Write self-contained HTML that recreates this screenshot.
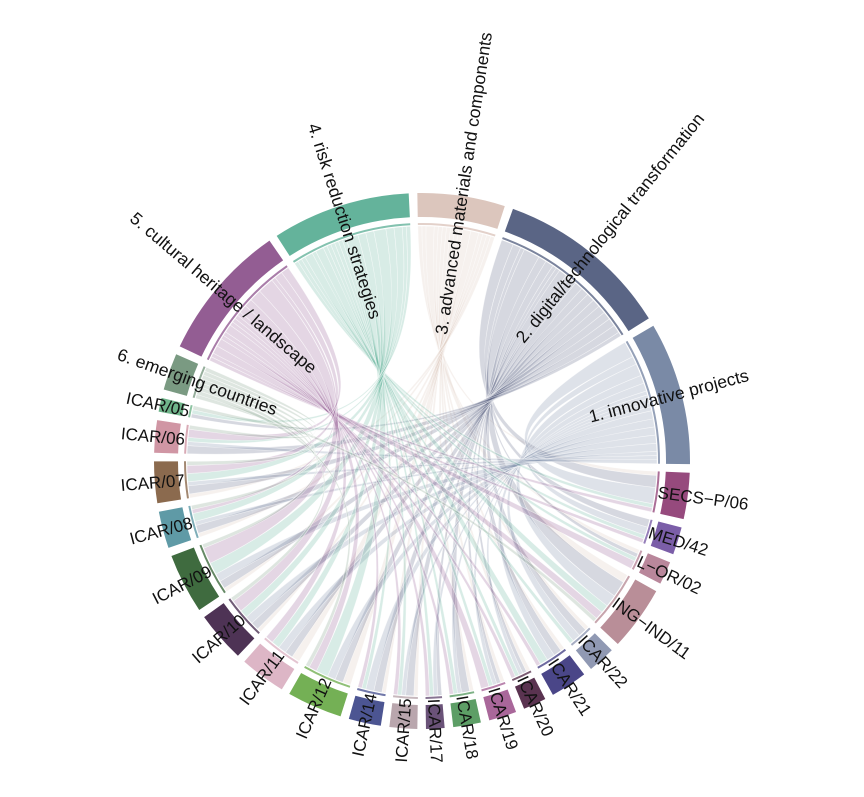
<!DOCTYPE html>
<html><head><meta charset="utf-8"><style>
html,body{margin:0;padding:0;background:#fff}
svg{display:block}
text{font-family:"Liberation Sans",Arial,sans-serif;fill:#111}
</style></head><body>
<svg id="chart" width="864" height="797" viewBox="0 0 864 797" xmlns="http://www.w3.org/2000/svg">
<g id="ribbons"></g>
<g id="arcs"></g>
<g id="labels"></g>
</svg>
<script>
// Themes (rows) and disciplines (columns)
const themes = ["3. advanced materials and components","2. digital/technological transformation","1. innovative projects","4. risk reduction strategies","5. cultural heritage / landscape","6. emerging countries"];
const themeColors = ["#dcc6bd","#5a6585","#7a8aa6","#64b39b","#935d93","#7a9a82"];
const disciplines = ["SECS\u2212P/06","MED/42","L\u2212OR/02","ING\u2212IND/11","ICAR/22","ICAR/21","ICAR/20","ICAR/19","ICAR/18","ICAR/17","ICAR/15","ICAR/14","ICAR/12","ICAR/11","ICAR/10","ICAR/09","ICAR/08","ICAR/07","ICAR/06","ICAR/05"];
const discColors = ["#964a7d","#7b5ea8","#b9879b","#b98e98","#9099b3","#4a4688","#5a3350","#a9679a","#5d9e66","#6a5278","#b9a6ad","#4c5592","#74b055","#ddb6c6","#4e3355","#3f6b3f","#5f9aa6","#8b6a4e","#d096a4","#6fb48a"];
// link values theme x discipline
const links3 = [1,0,1,2,1,1,1,1,1,0,1,1,2,2,1,1,1,1,0,0];
const links2 = [3,2,1,4,2,2,1,1,2,1,2,2,2,2,2,2,2,2,2,1];
const links1 = [4,2,0,3,2,2,1,1,1,1,1,2,2,2,2,2,1,1,1,0];
const links4 = [1,1,1,2,1,2,1,1,1,1,1,1,3,2,2,3,2,2,1,1];
const links5 = [1,1,2,2,0,1,1,2,1,1,1,1,2,2,3,4,1,2,2,0];
const links6 = [0,0,0,1,0,0,0,0,0,0,0,0,1,0,1,1,1,1,1,1];
const matrix = [links3,links2,links1,links4,links5,links6];
const themeLabelR = [128,155,173,150,141,154];

const cx=422, cy=461, R0=240, R1=268, RC=235;
const NS="http://www.w3.org/2000/svg";
function pt(a,r){const t=a*Math.PI/180;return [cx+r*Math.sin(t), cy-r*Math.cos(t)];}
function arcPath(a0,a1,ri,ro){
  const p0=pt(a0,ro),p1=pt(a1,ro),p2=pt(a1,ri),p3=pt(a0,ri);const lg=(a1-a0)>180?1:0;
  return `M${p0[0]},${p0[1]}A${ro},${ro} 0 ${lg} 1 ${p1[0]},${p1[1]}L${p2[0]},${p2[1]}A${ri},${ri} 0 ${lg} 0 ${p3[0]},${p3[1]}Z`;
}
const order=[];
order.push({type:'t',i:0},{type:'t',i:1},{type:'t',i:2});
for(let j=0;j<disciplines.length;j++) order.push({type:'d',i:j});
order.push({type:'t',i:5},{type:'t',i:4},{type:'t',i:3});
function total(g){ if(g.type==='t') return matrix[g.i].reduce((a,b)=>a+b,0); let s=0; for(const row of matrix) s+=row[g.i]; return s; }
const totals=order.map(total);
const sum=totals.reduce((a,b)=>a+b,0);
const pad=1.85;
const k=(360-pad*order.length)/sum;
let cur=-1;
const themeAng={}, discAng={};
order.forEach((g,idx)=>{ const s=cur, e=cur+totals[idx]*k; g.s=s; g.e=e; cur=e+pad;
  if(g.type==='t') themeAng[g.i]=g; else discAng[g.i]=g; });
const sub={};
for(let t=0;t<matrix.length;t++){ let a=themeAng[t].s; for(let j=0;j<disciplines.length;j++){ const v=matrix[t][j]*k; sub['t'+t+'d'+j]={s:a,e:a+v}; a+=v; } }
for(let j=0;j<disciplines.length;j++){ let a=discAng[j].s; for(let t=0;t<matrix.length;t++){ const v=matrix[t][j]*k; sub['d'+j+'t'+t]={s:a,e:a+v}; a+=v; } }

const rib=document.getElementById('ribbons');
const CR=RC*0.3;
for(let t=0;t<matrix.length;t++) for(let j=0;j<disciplines.length;j++){
  if(!matrix[t][j]) continue;
  const A=sub['t'+t+'d'+j], B=sub['d'+j+'t'+t];
  const a0=pt(A.s,RC),a1=pt(A.e,RC),b0=pt(B.s,RC),b1=pt(B.e,RC);
  const ca1=pt(A.e,CR),cb0=pt(B.s,CR),cb1=pt(B.e,CR),ca0=pt(A.s,CR);
  const d=`M${a0[0]},${a0[1]}A${RC},${RC} 0 0 1 ${a1[0]},${a1[1]}C${ca1[0]},${ca1[1]} ${cb0[0]},${cb0[1]} ${b0[0]},${b0[1]}A${RC},${RC} 0 0 1 ${b1[0]},${b1[1]}C${cb1[0]},${cb1[1]} ${ca0[0]},${ca0[1]} ${a0[0]},${a0[1]}Z`;
  const p=document.createElementNS(NS,'path');
  p.setAttribute('d',d);p.setAttribute('fill',themeColors[t]);p.setAttribute('fill-opacity','0.25');
  p.setAttribute('stroke','#fff');p.setAttribute('stroke-width','0.6');p.setAttribute('stroke-opacity','0.6');
  
  
  rib.appendChild(p);
}
const arcs=document.getElementById('arcs'), labs=document.getElementById('labels');
order.forEach(g=>{
  const col=g.type==='t'?themeColors[g.i]:discColors[g.i];
  const p=document.createElementNS(NS,'path');
  p.setAttribute('d',arcPath(g.s,g.e,R0+4,R1));p.setAttribute('fill',col);
  
  
  arcs.appendChild(p);
  const st=document.createElementNS(NS,'path');
  st.setAttribute('d',arcPath(g.s,g.e,RC+1,RC+3));st.setAttribute('fill',col);st.setAttribute('opacity','0.8');
  
  
  arcs.appendChild(st);
  const a=(g.s+g.e)/2; const an=((a%360)+360)%360;
  const flip=an>180;
  const r=g.type==='t'?themeLabelR[g.i]:238;
  const tx=document.createElementNS(NS,'text');
  tx.setAttribute('transform',`translate(${cx},${cy}) rotate(${a-90}) translate(${r},0)`+(flip?' rotate(180)':''));
  tx.setAttribute('text-anchor',flip?'end':'start');
  tx.setAttribute('dy','0.35em');
  tx.setAttribute('font-size',g.type==='t'?'17.5':'17');
  tx.textContent=g.type==='t'?themes[g.i]:disciplines[g.i];
  
  
  labs.appendChild(tx);
});
</script>
</body></html>
